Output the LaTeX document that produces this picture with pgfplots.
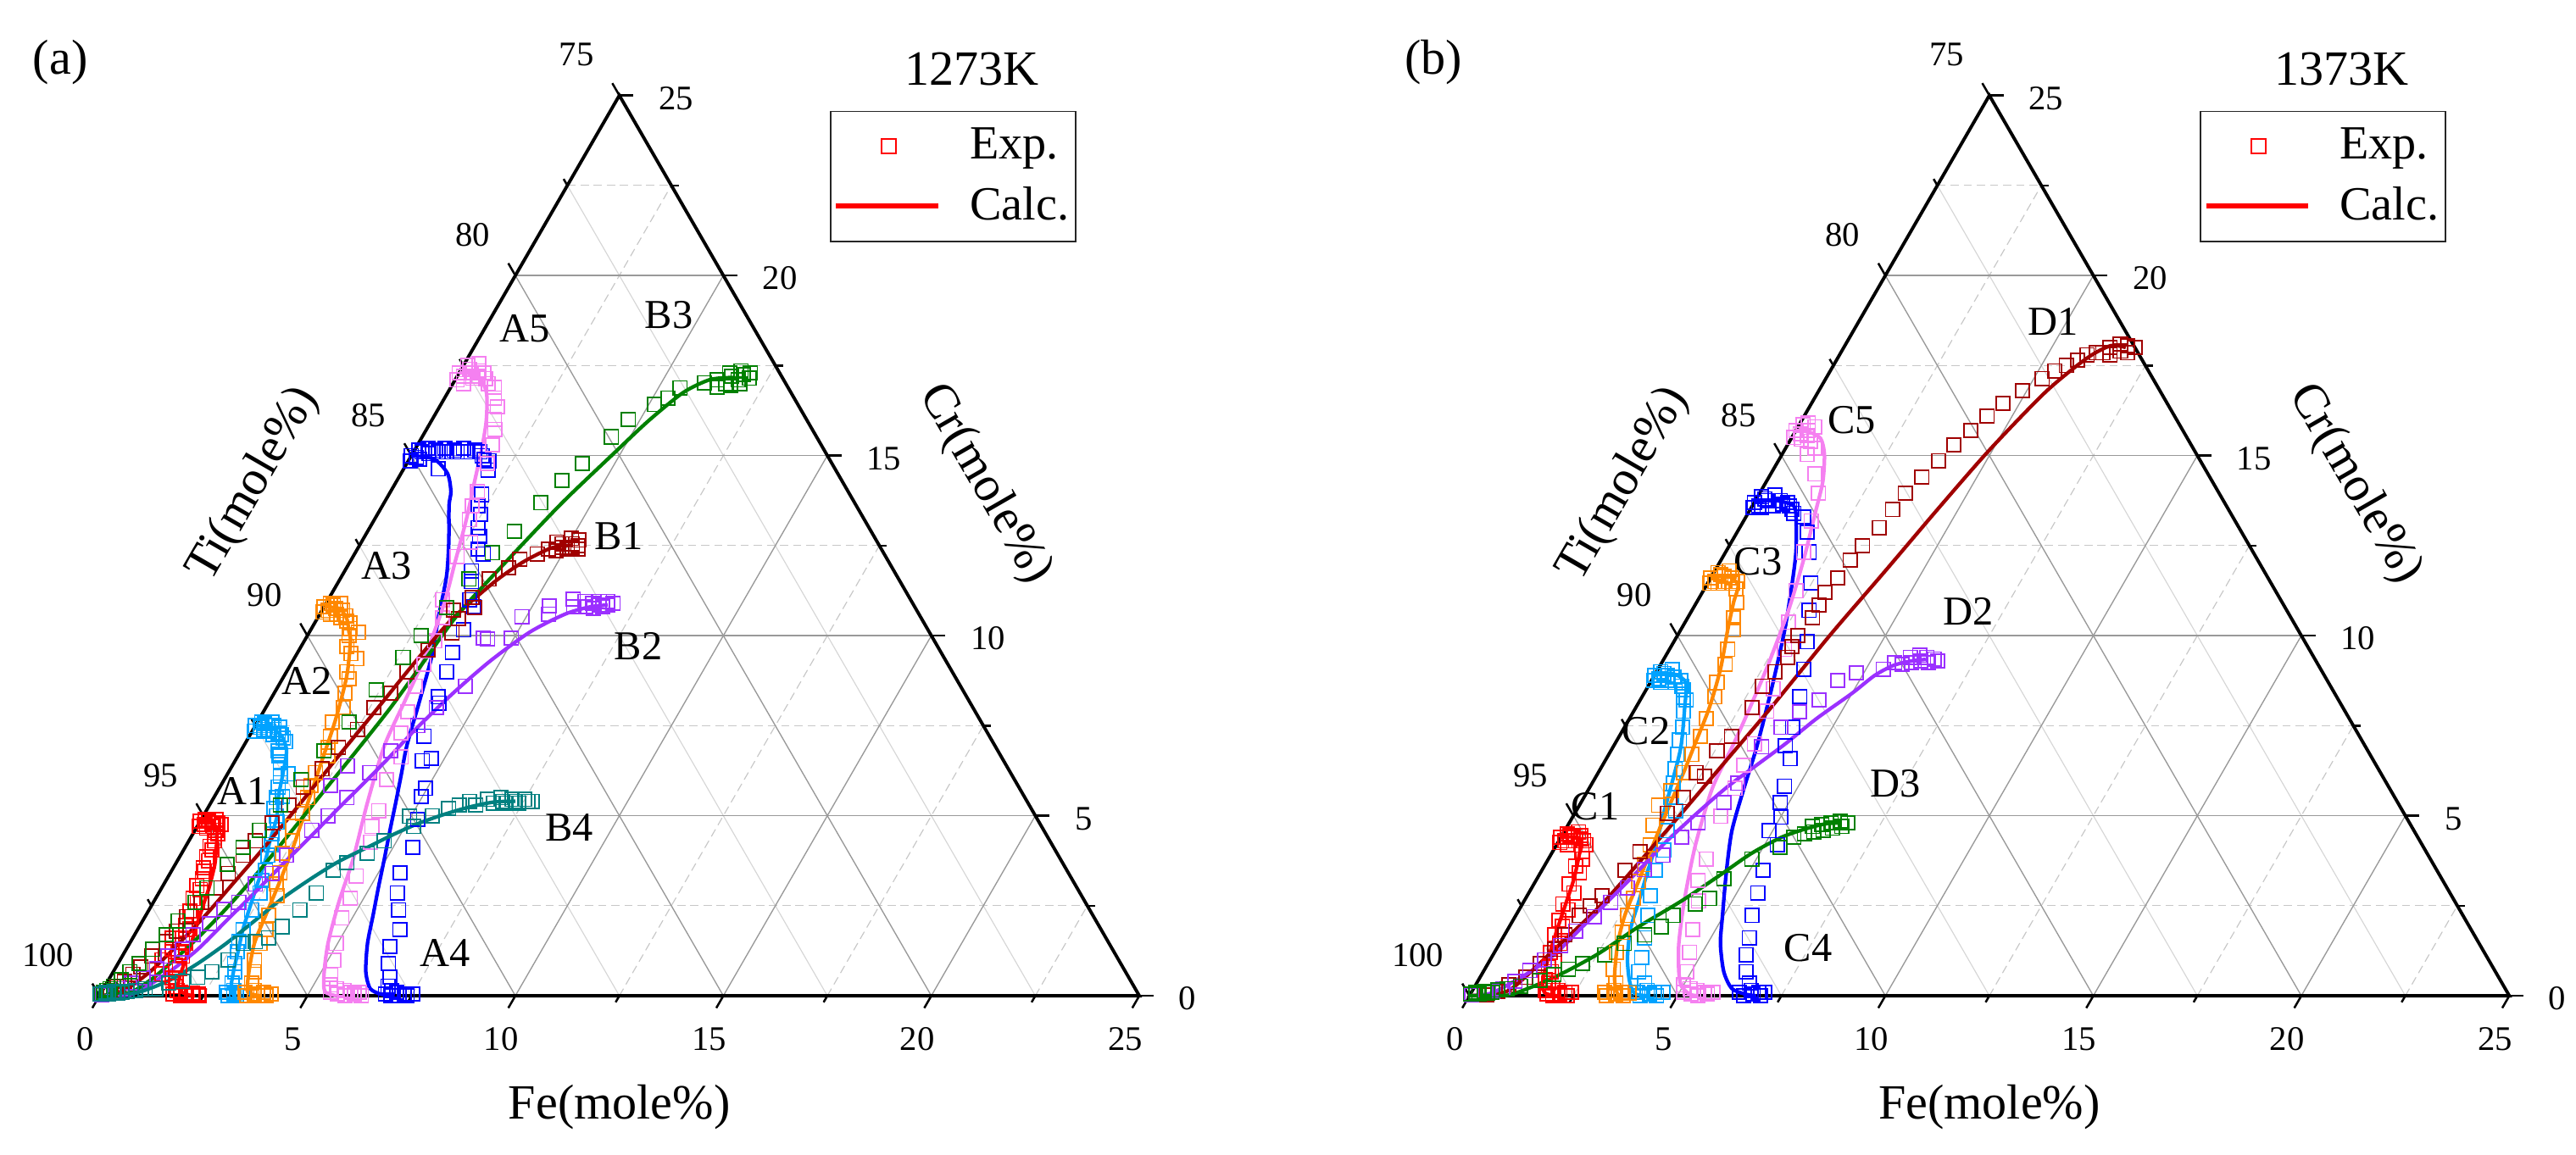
\documentclass[border=0pt]{standalone}
\usepackage{fontspec}
\setmainfont{Liberation Serif}
\usepackage{pgfplots}
\pgfplotsset{compat=1.18}
\definecolor{cred}{RGB}{255,0,0}
\definecolor{clb}{RGB}{0,162,255}
\definecolor{cor}{RGB}{255,136,0}
\definecolor{cbl}{RGB}{0,0,255}
\definecolor{cpk}{RGB}{245,128,240}
\definecolor{cdr}{RGB}{160,0,0}
\definecolor{cpu}{RGB}{155,48,255}
\definecolor{cgr}{RGB}{0,128,0}
\definecolor{ctl}{RGB}{0,128,128}
\newcommand{\ticksize}{\fontsize{10.5}{12}\selectfont}
\newcommand{\titlesize}{\fontsize{15}{17}\selectfont}
\newcommand{\labsize}{\fontsize{12.5}{14}\selectfont}
\tikzset{
  gmajor/.style={draw=black!40, line width=0.35pt},
  gminor/.style={draw=black!22, line width=0.3pt, dash pattern=on 2.5pt off 1.5pt},
  gminorT/.style={draw=black!16, line width=0.3pt},
  edge/.style={draw=black, line width=1pt, line join=miter},
  tk/.style={draw=black, line width=0.65pt},
}
\pgfplotsset{
  exp/.style={only marks, mark=square, mark size=2.1pt, mark options={line width=0.45pt, solid}, forget plot},
  calc/.style={no marks, line width=1.1pt, smooth, tension=0.45, forget plot},
  table/tern/.style={row sep=\\, x expr=\thisrow{f}+0.5*\thisrow{c}, y expr=0.8660254*\thisrow{c}},
  legexp/.style={legend image code/.code={\draw[mark repeat=2,mark phase=2,##1] plot coordinates {(0pt,0pt)(16pt,0pt)(31pt,0pt)};}},
  legcalc/.style={legend image code/.code={\draw[##1] (0pt,0pt) -- (31pt,0pt);}},
  ternax/.style={x=12.66pt, y=12.66pt, xmin=0, xmax=25, ymin=0, ymax=21.650635,
    hide axis, clip=false, enlargelimits=false,
    legend style={at={(0.7024,0.9829)}, anchor=north west, draw=black!85, fill=white,
      inner xsep=1pt, inner ysep=4pt, row sep=5pt, column sep=8pt,
      nodes={inner sep=1pt}, font=\fontsize{14.5}{16}\selectfont},
    legend cell align=left},
}
\newcommand{\ternframe}{%
  \foreach \v in {2.5,7.5,12.5,17.5,22.5}{%
    \draw[gminor] ({\v/2},{0.8660254*\v}) -- ({25-\v/2},{0.8660254*\v});
    \draw[gminor] (\v,0) -- ({(25+\v)/2},{0.8660254*(25-\v)});
    \draw[gminorT] (\v,0) -- ({\v/2},{0.8660254*\v});
  }%
  \foreach \v in {5,10,15,20}{%
    \draw[gmajor] ({\v/2},{0.8660254*\v}) -- ({25-\v/2},{0.8660254*\v});
    \draw[gmajor] (\v,0) -- ({(25+\v)/2},{0.8660254*(25-\v)});
    \draw[gmajor] (\v,0) -- ({\v/2},{0.8660254*\v});
  }%
  \draw[edge] (0,0) -- (25,0) -- (12.5,21.650635) -- cycle;
  \foreach \v in {0,5,...,25}{%
    \draw[tk] (\v,0) -- ++(-0.17,-0.2944);
    \draw[tk] ({25-\v/2},{0.8660254*\v}) -- ++(0.34,0);
    \draw[tk] ({\v/2},{0.8660254*\v}) -- ++(-0.17,0.2944);
    \node[font=\ticksize] at ({\v-0.34},-1.05) {\v};
    \node[font=\ticksize, anchor=west] at ({25-\v/2+0.67},{0.8660254*\v-0.07}) {\v};
    \pgfmathtruncatemacro{\tv}{100-\v}
    \node[font=\ticksize, anchor=east] at ({\v/2-0.336},{0.8660254*\v+0.975}) {\tv};
  }%
  \foreach \v in {2.5,7.5,...,22.5}{%
    \draw[tk] (\v,0) -- ++(-0.09,-0.156);
    \draw[tk] ({25-\v/2},{0.8660254*\v}) -- ++(0.18,0);
    \draw[tk] ({\v/2},{0.8660254*\v}) -- ++(-0.09,0.156);
  }%
  \node[font=\titlesize] at (12.5,-2.67) {Fe(mole\%)};
  \node[font=\titlesize, rotate=60] at (3.72,12.30) {Ti(mole\%)};
  \node[font=\titlesize, rotate=-60] at (21.28,12.30) {Cr(mole\%)};
}
\begin{document}
\begin{tikzpicture}
\useasboundingbox (0,0) rectangle (784pt,351.5pt);
% ---------------- panel (a) frame
\begin{scope}[shift={(30.25pt,48.35pt)}, x=12.66pt, y=12.66pt]
  \ternframe
  \node[font=\titlesize] at (-0.94,22.45) {(a)};
  \node[font=\titlesize] at (20.97,22.28) {1273K};
  \node[font=\labsize] at (3.45,4.92) {A1};
  \node[font=\labsize] at (4.98,7.57) {A2};
  \node[font=\labsize] at (6.90,10.34) {A3};
  \node[font=\labsize] at (8.31,1.04) {A4};
  \node[font=\labsize] at (10.23,16.04) {A5};
  \node[font=\labsize] at (12.49,11.05) {B1};
  \node[font=\labsize] at (12.96,8.40) {B2};
  \node[font=\labsize] at (13.69,16.38) {B3};
  \node[font=\labsize] at (11.29,4.04) {B4};
\end{scope}
% ---------------- panel (b) frame
\begin{scope}[shift={(447.2pt,48.35pt)}, x=12.66pt, y=12.66pt]
  \ternframe
  \node[font=\titlesize] at (-0.865,22.45) {(b)};
  \node[font=\titlesize] at (20.97,22.28) {1373K};
  \node[font=\labsize] at (3.03,4.55) {C1};
  \node[font=\labsize] at (4.25,6.36) {C2};
  \node[font=\labsize] at (6.94,10.44) {C3};
  \node[font=\labsize] at (8.14,1.15) {C4};
  \node[font=\labsize] at (9.19,13.84) {C5};
  \node[font=\labsize] at (14.04,16.22) {D1};
  \node[font=\labsize] at (11.99,9.24) {D2};
  \node[font=\labsize] at (10.24,5.11) {D3};
\end{scope}
% ---------------- panel (a) data
\begin{axis}[ternax, at={(30.25pt,48.35pt)}, anchor=south west]
\addlegendimage{only marks, mark=square, mark size=2.2pt, mark options={line width=0.45pt}, cred, legexp}
\addlegendentry{Exp.}
\addlegendimage{cred, line width=1.4pt, legcalc}
\addlegendentry{Calc.}
% A1
\addplot[exp, cred] table[tern] {f c\\ 0.0 4.85\\ 0.05 4.7\\ 0.1 4.9\\ 0.15 4.75\\ 0.2 4.85\\ 0.25 4.65\\ 0.3 4.8\\ 0.35 4.9\\ 0.4 4.7\\ 0.45 4.8\\ 0.5 4.6\\ 0.55 4.75\\ 0.6 4.5\\ 0.62 4.3\\ 0.58 4.15\\ 0.68 4.05\\ 0.65 3.85\\ 0.75 3.75\\ 0.72 3.55\\ 0.8 3.45\\ 0.85 3.25\\ 0.82 3.05\\ 0.95 2.95\\ 0.9 2.7\\ 1.05 2.6\\ 1.0 2.35\\ 1.12 2.2\\ 1.1 1.95\\ 1.25 1.85\\ 1.2 1.6\\ 0.95 1.6\\ 1.35 1.45\\ 1.1 1.3\\ 1.3 1.2\\ 1.45 1.1\\ 1.0 1.0\\ 1.4 0.85\\ 1.55 0.75\\ 1.2 0.6\\ 1.5 0.5\\ 1.65 0.4\\ 1.7 0.25\\ 1.8 0.15\\ 1.75 0.05\\ 1.9 0.1\\ 1.95 0.0\\ 2.05 0.05\\ 2.1 0.0\\ 2.2 0.08\\ 2.25 0.0\\ 2.35 0.05\\ 2.4 0.0\\};
\addplot[calc, cred] table[tern] {f c\\ 0 4.8\\ 0.3 4.8\\ 0.5 4.65\\ 0.65 4.35\\ 0.75 4.12\\ 0.95 3.65\\ 1.13 3.02\\ 1.23 2.55\\ 1.37 1.92\\ 1.52 1.29\\ 1.62 0.75\\ 1.72 0.35\\ 1.90 0.12\\ 2.15 0.02\\ 2.3 0\\};
% A2
\addplot[exp, clb] table[tern] {f c\\ 0 7.5\\ 0.05 7.35\\ 0.1 7.6\\ 0.15 7.45\\ 0.2 7.55\\ 0.25 7.4\\ 0.3 7.5\\ 0.35 7.6\\ 0.4 7.35\\ 0.45 7.5\\ 0.5 7.4\\ 0.55 7.25\\ 0.6 7.45\\ 0.65 7.3\\ 0.75 7.25\\ 0.85 7.15\\ 0.95 7.05\\ 0.9 6.8\\ 1.0 6.65\\ 1.1 6.5\\ 0.98 6.71\\ 1.2 6.3\\ 1.3 6.1\\ 1.46 6.16\\ 1.4 5.8\\ 1.5 5.5\\ 1.64 5.53\\ 1.6 5.2\\ 1.75 5.0\\ 1.86 4.82\\ 1.9 4.5\\ 2.03 4.2\\ 2.1 3.9\\ 2.25 3.49\\ 2.3 3.2\\ 2.43 2.86\\ 2.46 2.39\\ 2.53 1.84\\ 2.6 1.5\\ 2.71 1.22\\ 2.8 0.9\\ 2.92 0.67\\ 3.01 0.35\\ 3.0 0.1\\ 3.1 0.0\\ 3.15 0.15\\ 3.2 0.05\\ 3.3 0.0\\ 3.35 0.1\\ 3.45 0.0\\};
\addplot[calc, clb] table[tern] {f c\\ 0 7.5\\ 0.4 7.45\\ 0.79 7.2\\ 1.1 6.8\\ 1.33 6.16\\ 1.55 5.5\\ 1.78 4.98\\ 1.95 4.3\\ 2.10 3.80\\ 2.30 2.86\\ 2.53 1.84\\ 2.70 1.3\\ 2.84 0.82\\ 3.0 0.35\\ 3.14 0.08\\ 3.3 0\\};
% A3
\addplot[exp, cor] table[tern] {f c\\ 0 10.8\\ 0.05 10.65\\ 0.1 10.9\\ 0.15 10.7\\ 0.2 10.85\\ 0.25 10.6\\ 0.3 10.75\\ 0.35 10.9\\ 0.4 10.6\\ 0.5 10.7\\ 0.55 10.5\\ 0.65 10.55\\ 0.75 10.4\\ 0.85 10.35\\ 0.93 10.2\\ 1.0 10.0\\ 1.18 10.09\\ 1.1 9.7\\ 1.3 9.5\\ 1.5 9.36\\ 1.45 9.0\\ 1.6 8.8\\ 1.7 8.4\\ 1.86 8.0\\ 1.8 7.6\\ 1.95 7.2\\ 2.05 6.9\\ 2.16 6.66\\ 2.1 6.2\\ 2.16 5.84\\ 2.25 5.5\\ 2.35 5.06\\ 2.3 4.7\\ 2.5 4.3\\ 2.42 3.96\\ 2.64 3.41\\ 2.7 3.1\\ 2.88 2.78\\ 2.95 2.24\\ 3.08 1.84\\ 3.14 1.45\\ 3.24 0.98\\ 3.39 0.67\\ 3.48 0.35\\ 3.45 0.1\\ 3.55 0.0\\ 3.65 0.15\\ 3.7 0.05\\ 3.8 0.0\\ 3.9 0.1\\ 4.0 0.0\\ 4.1 0.05\\};
\addplot[calc, cor] table[tern] {f c\\ 0 10.8\\ 0.4 10.75\\ 0.72 10.46\\ 0.95 10.1\\ 1.11 9.85\\ 1.51 8.87\\ 1.85 7.64\\ 2.13 6.31\\ 2.33 5.37\\ 2.58 4.20\\ 2.75 3.18\\ 2.88 2.24\\ 3.0 1.45\\ 3.26 0.67\\ 3.50 0.12\\ 3.75 0.02\\ 3.9 0\\};
% A4
\addplot[exp, cbl] table[tern] {f c\\ 0 15.0\\ 0.05 14.85\\ 0.1 15.15\\ 0.15 14.95\\ 0.2 15.1\\ 0.25 14.9\\ 0.3 15.2\\ 0.4 15.05\\ 0.5 15.15\\ 0.6 15.1\\ 0.7 15.2\\ 0.83 14.63\\ 0.8 15.1\\ 0.95 15.15\\ 1.05 15.1\\ 1.15 15.2\\ 1.3 15.1\\ 1.45 15.15\\ 1.6 15.1\\ 1.7 15.0\\ 1.8 14.9\\ 1.93 14.86\\ 2.04 14.6\\ 2.23 13.92\\ 2.3 13.6\\ 2.48 13.37\\ 2.6 13.0\\ 2.76 12.75\\ 2.9 12.4\\ 3.10 12.27\\ 3.05 11.8\\ 3.2 11.5\\ 3.4 11.0\\ 3.6 10.8\\ 3.67 10.16\\ 3.72 9.53\\ 3.85 9.0\\ 4.0 8.3\\ 4.1 8.13\\ 4.2 7.21\\ 4.5 6.53\\ 4.68 6.59\\ 4.96 5.76\\ 4.97 5.53\\ 5.2 4.9\\ 5.47 4.12\\ 5.52 3.41\\ 5.73 2.86\\ 6.0 2.39\\ 6.30 1.84\\ 6.30 1.37\\ 6.50 0.90\\ 6.73 0.51\\ 6.8 0.27\\ 6.85 0.05\\ 6.95 0.15\\ 7.0 0.0\\ 7.1 0.1\\ 7.2 0.0\\ 7.3 0.05\\ 7.4 0.0\\ 7.5 0.05\\};
\addplot[calc, cbl] table[tern] {f c\\ 0 15.0\\ 0.6 14.9\\ 1.12 14.5\\ 1.45 14.0\\ 1.60 13.61\\ 2.1 12.6\\ 2.52 11.65\\ 2.9 10.5\\ 3.27 9.45\\ 3.6 8.2\\ 3.92 6.94\\ 4.18 6.16\\ 4.44 5.37\\ 4.69 4.59\\ 4.95 3.80\\ 5.20 3.02\\ 5.46 2.24\\ 5.72 1.45\\ 6.07 0.67\\ 6.41 0.20\\ 6.76 0.04\\ 7.1 0\\};
% A5
\addplot[exp, cpk] table[tern] {f c\\ 0 17.3\\ 0.05 17.1\\ 0.1 17.5\\ 0.15 17.2\\ 0.2 17.4\\ 0.25 17.0\\ 0.3 17.3\\ 0.35 17.55\\ 0.4 17.15\\ 0.45 17.35\\ 0.5 17.2\\ 0.6 17.3\\ 0.72 17.14\\ 0.85 17.0\\ 1.05 16.9\\ 1.2 16.6\\ 1.39 16.35\\ 1.5 16.0\\ 1.64 15.73\\ 1.8 15.3\\ 1.94 14.78\\ 2.09 14.0\\ 2.16 13.6\\ 2.28 13.22\\ 2.63 12.59\\ 2.5 12.2\\ 2.75 11.0\\ 3.0 10.5\\ 3.13 9.85\\ 3.2 9.2\\ 3.3 8.6\\ 3.47 7.88\\ 3.6 7.3\\ 3.94 6.63\\ 3.9 6.0\\ 4.14 5.14\\ 4.2 4.7\\ 4.38 4.27\\ 4.51 3.33\\ 4.68 2.71\\ 4.75 2.16\\ 4.97 1.45\\ 5.14 0.98\\ 5.27 0.59\\ 5.4 0.3\\ 5.5 0.1\\ 5.6 0.2\\ 5.7 0.05\\ 5.8 0.15\\ 5.9 0.0\\ 6.0 0.1\\ 6.1 0.05\\ 6.2 0.1\\ 6.3 0.0\\};
\addplot[calc, cpk] table[tern] {f c\\ 0 17.3\\ 0.48 17.22\\ 0.93 16.75\\ 1.32 15.96\\ 1.60 15.18\\ 1.87 14.31\\ 2.21 13.22\\ 2.53 12.04\\ 2.85 10.86\\ 3.12 9.4\\ 3.25 8.2\\ 3.38 6.94\\ 3.76 5.37\\ 4.20 3.80\\ 4.45 2.63\\ 4.77 1.45\\ 5.1 0.6\\ 5.36 0.12\\ 5.7 0\\};
% B1
\addplot[exp, cdr] table[tern] {f c\\ 0.05 0.05\\ 0.1 0.1\\ 0.2 0.15\\ 0.3 0.25\\ 0.4 0.4\\ 0.5 0.6\\ 0.6 0.8\\ 0.7 1.1\\ 0.85 1.5\\ 0.95 1.8\\ 1.0 2.2\\ 1.15 2.6\\ 1.3 3.0\\ 1.4 3.4\\ 1.5 3.9\\ 1.6 4.3\\ 1.75 4.8\\ 1.9 5.3\\ 2.0 5.8\\ 2.2 6.3\\ 2.3 6.9\\ 2.5 7.4\\ 2.6 8.0\\ 2.8 8.4\\ 2.9 9.0\\ 3.1 9.6\\ 3.44 10.08\\ 3.39 10.47\\ 3.16 10.71\\ 3.63 10.78\\ 3.43 11.06\\ 3.58 11.57\\ 3.9 11.88\\ 4.05 12.12\\ 4.39 12.27\\ 4.6 12.4\\ 4.7 12.6\\ 4.8 12.35\\ 4.85 12.55\\ 4.9 12.45\\ 5.0 12.7\\ 5.05 12.4\\ 5.1 12.55\\ 5.15 12.45\\ 5.2 12.65\\ 5.25 12.5\\ 5.3 12.4\\};
\addplot[calc, cdr] table[tern] {f c\\ 0 0\\ 0.3 0.05\\ 0.57 0.2\\ 0.9 0.7\\ 1.2 1.5\\ 1.45 2.3\\ 1.65 3.1\\ 1.85 3.9\\ 2.05 4.8\\ 2.25 5.8\\ 2.45 6.8\\ 2.7 8.0\\ 2.96 9.29\\ 3.25 10.47\\ 3.75 11.49\\ 4.16 12.04\\ 4.64 12.43\\ 5.08 12.51\\};
% B2
\addplot[exp, cpu] table[tern] {f c\\ 0.05 0.03\\ 0.15 0.05\\ 0.3 0.1\\ 0.45 0.2\\ 0.6 0.35\\ 0.8 0.5\\ 1.0 0.75\\ 1.1 1.1\\ 1.35 1.3\\ 1.4 1.7\\ 1.65 2.0\\ 1.8 2.4\\ 2.05 2.6\\ 2.2 3.1\\ 2.45 3.4\\ 2.55 3.9\\ 2.8 4.6\\ 3.0 5.0\\ 3.2 5.5\\ 2.64 5.84\\ 3.4 6.2\\ 2.77 6.39\\ 3.6 6.8\\ 3.9 7.5\\ 4.1 8.0\\ 4.5 8.6\\ 4.38 9.91\\ 4.27 9.93\\ 4.94 9.93\\ 4.89 10.53\\ 5.4 10.83\\ 5.5 10.6\\ 5.89 11.01\\ 6.0 10.8\\ 6.2 10.95\\ 6.3 10.8\\ 6.4 10.9\\ 6.5 10.75\\ 6.55 10.95\\ 6.6 10.85\\ 6.7 10.8\\ 6.75 10.95\\ 6.8 10.85\\ 6.9 10.9\\};
\addplot[calc, cpu] table[tern] {f c\\ 0 0\\ 0.4 0.01\\ 0.83 0.08\\ 1.35 0.67\\ 1.72 1.29\\ 2.01 2.08\\ 2.30 2.86\\ 2.58 3.65\\ 2.87 4.43\\ 3.15 5.22\\ 3.44 6.0\\ 3.65 6.6\\ 3.9 7.4\\ 4.3 8.4\\ 4.75 9.3\\ 5.3 10.1\\ 5.9 10.6\\ 6.4 10.8\\ 6.8 10.85\\};
% B3
\addplot[exp, cgr] table[tern] {f c\\ 0.02 0.05\\ 0.05 0.1\\ 0.1 0.15\\ 0.15 0.2\\ 0.2 0.27\\ 0.3 0.45\\ 0.4 0.67\\ 0.5 0.9\\ 0.64 1.29\\ 0.75 1.7\\ 0.85 2.08\\ 1.0 2.6\\ 1.09 3.0\\ 1.25 3.65\\ 1.39 4.12\\ 1.55 4.6\\ 1.7 5.3\\ 1.85 6.0\\ 2.0 6.8\\ 2.2 7.6\\ 2.4 8.5\\ 2.6 9.4\\ 2.73 10.0\\ 2.95 10.78\\ 3.10 11.57\\ 3.29 12.3\\ 3.52 12.9\\ 3.77 13.69\\ 3.97 14.31\\ 4.22 14.78\\ 4.55 15.52\\ 4.72 16.0\\ 5.13 16.42\\ 5.37 16.6\\ 5.52 16.88\\ 6.03 17.02\\ 6.3 17.1\\ 6.4 16.9\\ 6.5 17.3\\ 6.55 17.0\\ 6.6 17.2\\ 6.7 16.95\\ 6.75 17.35\\ 6.8 17.1\\ 6.85 17.25\\ 6.9 17.0\\ 7.0 17.3\\ 7.05 17.15\\};
\addplot[calc, cgr] table[tern] {f c\\ 0 0\\ 0.4 0.03\\ 0.74 0.12\\ 1.05 0.5\\ 1.3 1.0\\ 1.56 1.61\\ 1.8 2.3\\ 2.0 3.0\\ 2.2 3.9\\ 2.4 4.9\\ 2.6 5.9\\ 2.8 6.9\\ 3.0 8.0\\ 3.15 9.2\\ 3.33 10.62\\ 3.79 12.18\\ 4.28 13.69\\ 4.84 15.07\\ 5.22 15.97\\ 5.66 16.75\\ 6.13 17.11\\ 6.69 17.17\\};
% B4
\addplot[exp, ctl] table[tern] {f c\\ 0.0 0.05\\ 0.1 0.1\\ 0.2 0.05\\ 0.3 0.12\\ 0.4 0.08\\ 0.5 0.1\\ 0.61 0.12\\ 0.8 0.15\\ 1.0 0.2\\ 1.25 0.2\\ 1.5 0.35\\ 1.8 0.4\\ 2.11 0.51\\ 2.37 0.67\\ 2.6 1.0\\ 2.73 1.45\\ 3.0 1.5\\ 3.26 1.61\\ 3.44 1.92\\ 3.62 2.39\\ 3.79 2.86\\ 3.88 3.49\\ 4.1 3.7\\ 4.46 3.96\\ 4.7 4.3\\ 4.97 4.98\\ 5.2 4.7\\ 5.5 5.0\\ 5.8 5.2\\ 6.0 5.3\\ 6.2 5.4\\ 6.4 5.3\\ 6.6 5.45\\ 6.8 5.35\\ 6.9 5.5\\ 7.0 5.4\\ 7.1 5.35\\ 7.2 5.45\\ 7.3 5.4\\ 7.4 5.35\\ 7.5 5.45\\ 7.6 5.4\\ 7.7 5.4\\};
\addplot[calc, ctl] table[tern] {f c\\ 0 0\\ 0.5 0.02\\ 0.95 0.12\\ 1.47 0.43\\ 1.92 0.90\\ 2.32 1.45\\ 2.69 2.08\\ 3.05 2.71\\ 3.46 3.25\\ 3.89 3.73\\ 4.38 4.12\\ 4.87 4.51\\ 5.3 4.8\\ 5.8 5.05\\ 6.3 5.25\\ 6.8 5.38\\ 7.3 5.4\\};
\end{axis}
% ---------------- panel (b) data
\begin{axis}[ternax, at={(447.2pt,48.35pt)}, anchor=south west]
\addlegendimage{only marks, mark=square, mark size=2.2pt, mark options={line width=0.45pt}, cred, legexp}
\addlegendentry{Exp.}
\addlegendimage{cred, line width=1.4pt, legcalc}
\addlegendentry{Calc.}
% C1
\addplot[exp, cred] table[tern] {f c\\ 0 4.4\\ 0.05 4.25\\ 0.1 4.5\\ 0.15 4.3\\ 0.2 4.45\\ 0.25 4.2\\ 0.3 4.4\\ 0.35 4.55\\ 0.4 4.3\\ 0.45 4.45\\ 0.5 4.35\\ 0.6 4.3\\ 0.7 4.2\\ 0.71 4.0\\ 0.82 3.80\\ 0.75 3.6\\ 0.94 3.41\\ 0.85 3.1\\ 1.08 2.86\\ 0.97 2.55\\ 1.18 2.39\\ 1.1 2.1\\ 1.28 1.92\\ 1.2 1.7\\ 1.45 1.45\\ 1.35 1.2\\ 1.55 0.98\\ 1.5 0.8\\ 1.64 0.67\\ 1.6 0.45\\ 1.73 0.35\\ 1.75 0.15\\ 1.85 0.05\\ 1.9 0.2\\ 2.0 0.0\\ 2.05 0.15\\ 2.15 0.05\\ 2.25 0.1\\ 2.35 0.0\\ 2.4 0.1\\};
\addplot[calc, cred] table[tern] {f c\\ 0 4.4\\ 0.4 4.4\\ 0.62 4.15\\ 0.67 3.96\\ 0.89 3.25\\ 1.04 2.55\\ 1.19 1.84\\ 1.37 1.06\\ 1.55 0.43\\ 1.75 0.1\\ 2.0 0.01\\ 2.2 0\\};
% C2
\addplot[exp, clb] table[tern] {f c\\ 0 8.9\\ 0.05 8.75\\ 0.1 9.0\\ 0.15 8.8\\ 0.2 8.95\\ 0.25 8.7\\ 0.3 8.9\\ 0.35 9.05\\ 0.4 8.75\\ 0.5 8.85\\ 0.6 8.7\\ 0.7 8.75\\ 0.8 8.6\\ 0.9 8.5\\ 1.0 8.3\\ 1.11 8.21\\ 1.2 7.9\\ 1.4 7.45\\ 1.5 7.1\\ 1.65 6.7\\ 1.8 6.3\\ 1.95 5.9\\ 2.1 5.5\\ 2.39 5.13\\ 2.46 4.58\\ 2.66 4.04\\ 2.73 3.49\\ 2.96 2.78\\ 3.17 2.23\\ 3.41 1.61\\ 3.61 1.06\\ 3.74 0.67\\ 4.04 0.35\\ 4.0 0.1\\ 4.1 0.0\\ 4.2 0.15\\ 4.3 0.05\\ 4.4 0.1\\ 4.5 0.0\\ 4.6 0.1\\};
\addplot[calc, clb] table[tern] {f c\\ 0 8.9\\ 0.4 8.95\\ 0.85 8.7\\ 1.18 7.99\\ 1.63 6.91\\ 1.89 6.0\\ 2.12 5.13\\ 2.39 4.19\\ 2.57 3.41\\ 2.76 2.63\\ 2.95 1.84\\ 3.27 1.06\\ 3.58 0.51\\ 3.8 0.2\\ 3.99 0.04\\ 4.3 0\\};
% C3
\addplot[exp, cor] table[tern] {f c\\ 0 11.6\\ 0.05 11.45\\ 0.1 11.75\\ 0.15 11.5\\ 0.2 11.7\\ 0.25 11.45\\ 0.3 11.65\\ 0.35 11.8\\ 0.4 11.5\\ 0.5 11.6\\ 0.6 11.45\\ 0.7 11.5\\ 0.76 11.3\\ 0.97 10.92\\ 1.1 10.5\\ 1.27 10.16\\ 1.40 9.62\\ 1.55 9.2\\ 1.6 8.7\\ 1.75 8.3\\ 1.85 7.7\\ 1.95 7.2\\ 2.0 6.7\\ 2.05 6.2\\ 2.0 5.7\\ 1.90 5.29\\ 2.04 4.74\\ 2.25 4.19\\ 2.39 3.64\\ 2.48 3.17\\ 2.59 2.70\\ 2.69 2.23\\ 2.79 1.76\\ 2.93 1.21\\ 3.09 0.74\\ 3.35 0.35\\ 3.2 0.1\\ 3.3 0.0\\ 3.4 0.15\\ 3.5 0.05\\ 3.6 0.1\\ 3.7 0.0\\ 3.8 0.08\\};
\addplot[calc, cor] table[tern] {f c\\ 0 11.6\\ 0.4 11.65\\ 0.76 11.4\\ 0.89 10.92\\ 1.13 10.16\\ 1.50 9.07\\ 1.77 7.99\\ 1.94 6.91\\ 2.05 6.2\\ 2.24 4.74\\ 2.38 3.80\\ 2.50 3.02\\ 2.62 2.23\\ 2.84 1.45\\ 3.16 0.67\\ 3.35 0.3\\ 3.55 0.04\\ 3.7 0\\};
% C4
\addplot[exp, cbl] table[tern] {f c\\ 0 13.7\\ 0.05 13.55\\ 0.1 13.85\\ 0.15 13.6\\ 0.2 13.8\\ 0.25 13.55\\ 0.3 13.75\\ 0.4 13.9\\ 0.5 13.6\\ 0.6 13.75\\ 0.7 13.65\\ 0.8 13.7\\ 0.9 13.6\\ 1.0 13.5\\ 1.1 13.4\\ 1.38 13.3\\ 1.69 12.87\\ 2.01 12.32\\ 2.48 11.46\\ 2.82 10.70\\ 3.21 9.83\\ 3.50 9.07\\ 3.79 8.31\\ 4.04 7.45\\ 4.13 6.94\\ 4.42 6.58\\ 4.67 5.82\\ 4.79 5.37\\ 5.01 4.96\\ 4.91 4.58\\ 5.30 4.20\\ 5.32 3.49\\ 5.50 2.86\\ 5.68 2.23\\ 5.92 1.61\\ 6.08 1.14\\ 6.32 0.67\\ 6.55 0.35\\ 6.45 0.1\\ 6.6 0.0\\ 6.7 0.15\\ 6.8 0.05\\ 6.9 0.1\\ 7.0 0.0\\ 7.05 0.1\\};
\addplot[calc, cbl] table[tern] {f c\\ 0 13.7\\ 0.5 13.75\\ 1.0 13.6\\ 1.26 13.19\\ 1.69 12.32\\ 2.03 11.46\\ 2.50 10.16\\ 3.0 8.53\\ 3.45 6.92\\ 3.72 5.76\\ 4.02 4.58\\ 4.47 3.41\\ 4.97 2.23\\ 5.31 1.45\\ 5.78 0.67\\ 6.21 0.20\\ 6.63 0.04\\ 6.9 0\\};
% C5
\addplot[exp, cpk] table[tern] {f c\\ 0 15.7\\ 0.05 15.5\\ 0.1 15.85\\ 0.15 15.6\\ 0.2 15.9\\ 0.25 15.45\\ 0.3 15.7\\ 0.35 15.55\\ 0.4 15.8\\ 0.5 15.4\\ 0.61 15.03\\ 0.7 15.2\\ 1.06 14.49\\ 1.42 13.95\\ 1.62 13.19\\ 1.87 12.32\\ 2.23 11.24\\ 2.49 10.37\\ 2.77 9.62\\ 3.04 8.53\\ 3.2 7.9\\ 3.35 7.0\\ 3.4 6.4\\ 3.50 5.76\\ 3.55 4.98\\ 3.80 3.80\\ 3.9 3.2\\ 4.19 2.63\\ 4.45 1.84\\ 4.69 1.21\\ 4.89 0.67\\ 5.0 0.3\\ 5.1 0.1\\ 5.2 0.2\\ 5.3 0.05\\ 5.4 0.15\\ 5.5 0.0\\ 5.6 0.1\\ 5.7 0.05\\ 5.8 0.1\\};
\addplot[calc, cpk] table[tern] {f c\\ 0 15.7\\ 0.35 15.65\\ 0.71 15.47\\ 1.02 15.03\\ 1.36 14.27\\ 1.61 13.41\\ 1.98 12.11\\ 2.32 10.70\\ 2.6 9.1\\ 2.78 7.7\\ 2.86 6.94\\ 2.96 5.76\\ 3.34 4.19\\ 3.85 2.63\\ 4.31 1.45\\ 4.70 0.67\\ 4.96 0.27\\ 5.28 0.04\\ 5.5 0\\};
% D1
\addplot[exp, cdr] table[tern] {f c\\ 0.05 0.02\\ 0.2 0.05\\ 0.4 0.03\\ 0.62 0.12\\ 0.8 0.3\\ 1.10 0.51\\ 1.25 0.9\\ 1.40 1.29\\ 1.45 1.7\\ 1.53 2.23\\ 1.65 2.5\\ 1.80 2.78\\ 1.99 3.49\\ 2.1 4.0\\ 2.22 5.07\\ 2.40 5.50\\ 2.35 6.2\\ 2.6 6.1\\ 2.55 6.8\\ 2.7 7.2\\ 2.8 8.0\\ 2.75 8.6\\ 2.85 9.0\\ 2.95 9.4\\ 2.9 9.7\\ 2.9 10.0\\ 3.0 10.5\\ 2.98 10.85\\ 2.95 11.2\\ 3.05 11.6\\ 3.1 12.1\\ 3.2 12.5\\ 3.35 13.0\\ 3.42 13.5\\ 3.5 13.95\\ 3.68 14.4\\ 3.85 14.86\\ 4.0 15.3\\ 4.2 15.7\\ 4.4 16.1\\ 4.6 16.45\\ 4.9 16.8\\ 5.2 17.14\\ 5.4 17.35\\ 5.6 17.5\\ 5.8 17.65\\ 5.95 17.8\\ 6.15 17.85\\ 6.3 17.85\\ 6.4 18.0\\ 6.5 17.8\\ 6.6 18.1\\ 6.7 17.9\\ 6.8 18.05\\ 6.9 17.85\\ 7.0 18.0\\};
\addplot[calc, cdr] table[tern] {f c\\ 0 0\\ 0.5 0.05\\ 0.92 0.2\\ 1.40 1.29\\ 1.86 2.39\\ 2.1 3.2\\ 2.35 4.2\\ 2.55 5.0\\ 2.9 6.5\\ 3.25 8.0\\ 3.66 10.0\\ 4.1 11.8\\ 4.5 13.5\\ 4.92 15.14\\ 5.47 16.77\\ 5.99 17.7\\ 6.39 18.05\\ 6.78 18.0\\};
% D2
\addplot[exp, cpu] table[tern] {f c\\ 0.05 0.02\\ 0.2 0.05\\ 0.35 0.08\\ 0.5 0.12\\ 0.7 0.2\\ 0.9 0.4\\ 1.1 0.7\\ 1.3 1.0\\ 1.5 1.4\\ 1.65 1.8\\ 1.9 2.2\\ 2.1 2.6\\ 2.3 3.0\\ 2.45 3.5\\ 2.7 3.9\\ 2.9 4.4\\ 3.1 4.8\\ 3.43 5.37\\ 3.5 5.9\\ 3.57 6.91\\ 3.76 7.45\\ 4.0 7.88\\ 4.30 8.21\\ 4.48 8.75\\ 4.82 8.97\\ 5.41 9.07\\ 5.6 9.25\\ 5.8 9.2\\ 5.9 9.4\\ 6.0 9.25\\ 6.1 9.45\\ 6.2 9.3\\ 6.3 9.4\\ 6.4 9.25\\ 6.5 9.35\\ 6.6 9.3\\};
\addplot[calc, cpu] table[tern] {f c\\ 0 0\\ 0.5 0.08\\ 1.06 0.59\\ 1.47 1.14\\ 1.76 1.92\\ 2.05 2.70\\ 2.33 3.49\\ 2.6 4.3\\ 2.95 5.1\\ 3.3 5.8\\ 3.7 6.4\\ 4.1 7.0\\ 4.5 7.7\\ 5.0 8.4\\ 5.3 8.9\\ 5.62 9.18\\ 6.0 9.3\\ 6.3 9.34\\};
% D3
\addplot[exp, cgr] table[tern] {f c\\ 0.0 0.05\\ 0.1 0.1\\ 0.2 0.05\\ 0.3 0.12\\ 0.4 0.08\\ 0.5 0.1\\ 0.6 0.16\\ 0.8 0.2\\ 1.09 0.27\\ 1.48 0.43\\ 1.74 0.59\\ 2.01 0.74\\ 2.27 0.90\\ 2.69 1.14\\ 3.0 1.45\\ 3.37 1.69\\ 3.66 1.92\\ 3.78 2.23\\ 4.16 2.55\\ 4.42 2.70\\ 4.49 3.25\\ 4.89 3.80\\ 5.41 4.12\\ 5.6 4.4\\ 5.8 4.5\\ 5.9 4.7\\ 6.0 4.55\\ 6.1 4.75\\ 6.2 4.6\\ 6.3 4.8\\ 6.4 4.65\\ 6.5 4.85\\ 6.6 4.7\\ 6.7 4.8\\};
\addplot[calc, cgr] table[tern] {f c\\ 0 0\\ 0.5 0.01\\ 1.0 0.04\\ 1.78 0.51\\ 2.49 1.14\\ 3.11 1.92\\ 3.78 2.63\\ 4.35 3.35\\ 4.8 3.95\\ 5.3 4.4\\ 5.8 4.65\\ 6.2 4.78\\ 6.5 4.8\\};
\end{axis}
\end{tikzpicture}
\end{document}
